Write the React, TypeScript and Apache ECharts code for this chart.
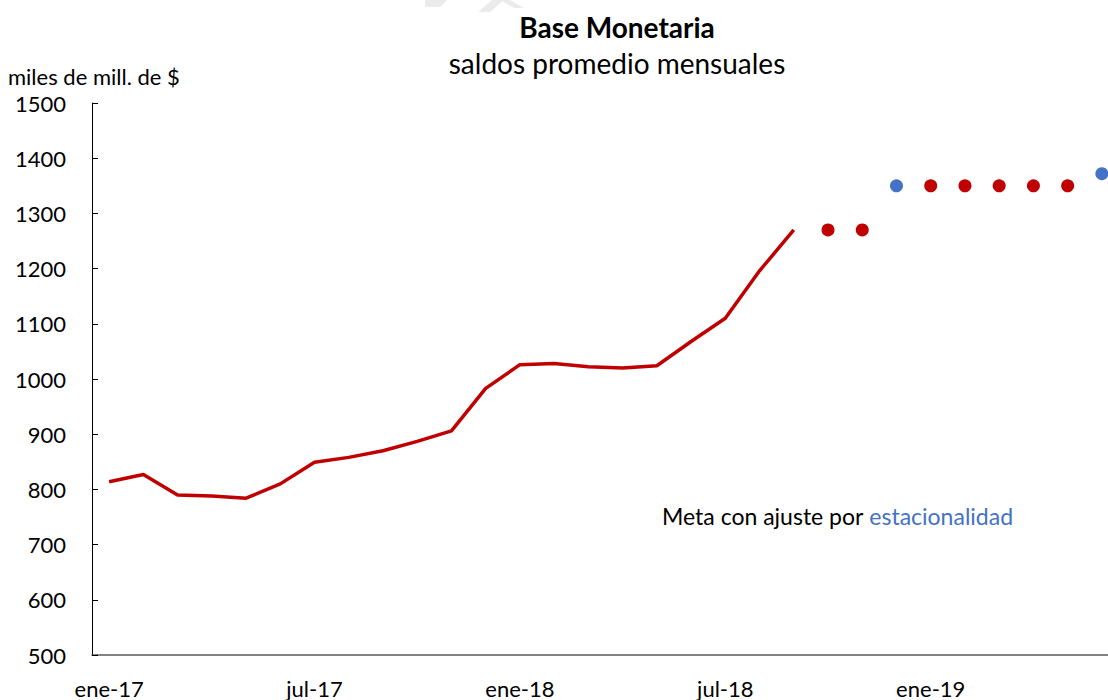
import React, { useEffect, useRef } from "react";
import * as echarts from "echarts";

const categories = [
  "ene-17", "feb-17", "mar-17", "abr-17", "may-17", "jun-17",
  "jul-17", "ago-17", "sep-17", "oct-17", "nov-17", "dic-17",
  "ene-18", "feb-18", "mar-18", "abr-18", "may-18", "jun-18",
  "jul-18", "ago-18", "sep-18", "oct-18", "nov-18", "dic-18",
  "ene-19", "feb-19", "mar-19", "abr-19", "may-19", "jun-19",
];

const baseMonetaria = [
  814, 827, 790, 788, 784, 810, 849, 858, 870, 887, 906,
  983, 1026, 1028, 1022, 1020, 1024, 1068, 1110, 1196, 1270,
];

const metaSinAjuste: [number, number][] = [
  [21, 1270], [22, 1270], [24, 1350], [25, 1350], [26, 1350], [27, 1350], [28, 1350],
];

const metaEstacional: [number, number][] = [
  [23, 1350], [29, 1372],
];

const FONT = "Lato, 'Open Sans', sans-serif";

export default function App() {
  const ref = useRef<HTMLDivElement>(null);
  useEffect(() => {
    if (!ref.current) return;
    const chart = echarts.init(ref.current, undefined, { renderer: "svg" });
    chart.setOption({
      animation: false,
      backgroundColor: "#ffffff",
      textStyle: { fontFamily: FONT },
      title: {
        text: "Base Monetaria",
        subtext: "saldos promedio mensuales",
        left: 612,
        textAlign: "center",
        top: 8,
        itemGap: 8,
        textStyle: { fontFamily: FONT, fontSize: 28, fontWeight: "bold", color: "#000" },
        subtextStyle: { fontFamily: FONT, fontSize: 28, color: "#000" },
      },
      grid: { left: 92, right: 0, top: 103, bottom: 45, containLabel: false },
      xAxis: {
        type: "category",
        data: categories,
        boundaryGap: true,
        axisLine: { lineStyle: { color: "#595959", width: 1.5 } },
        axisTick: { inside: true, length: 6, interval: 5, lineStyle: { color: "#595959" } },
        axisLabel: { interval: 5, margin: 22, fontSize: 22, color: "#000", fontFamily: FONT },
        splitLine: { show: false },
      },
      yAxis: {
        type: "value",
        min: 500,
        max: 1500,
        interval: 100,
        name: "miles de mill. de $",
        nameLocation: "end",
        nameGap: 16,
        nameTextStyle: { fontSize: 22, color: "#000", fontFamily: FONT, align: "left", padding: [0, 0, 0, -84] },
        axisLine: { show: true, lineStyle: { color: "#000", width: 1 } },
        axisTick: { show: true, inside: true, length: 6, lineStyle: { color: "#000" } },
        axisLabel: {
          margin: 26,
          fontSize: 22,
          color: "#000",
          fontFamily: FONT,
          formatter: (v: number) => String(v),
        },
        splitLine: { show: false },
      },
      series: [
        {
          type: "line",
          data: baseMonetaria,
          symbol: "none",
          lineStyle: { color: "#C00000", width: 3.5 },
          z: 3,
        },
        {
          type: "scatter",
          data: metaSinAjuste,
          symbol: "circle",
          symbolSize: 13,
          itemStyle: { color: "#C00000", opacity: 1 },
        },
        {
          type: "scatter",
          data: metaEstacional,
          symbol: "circle",
          symbolSize: 13,
          itemStyle: { color: "#4472C4", opacity: 1 },
        },
      ],
      graphic: [
        {
          type: "polygon",
          silent: true,
          shape: { points: [[425, 0], [447, 0], [440, 7], [425, 7]] },
          style: { fill: "#ebebeb" },
        },
        {
          type: "polygon",
          silent: true,
          shape: { points: [[478, 12], [490, 12], [504, 0], [492, 0]] },
          style: { fill: "#ebebeb" },
        },
        {
          type: "polygon",
          silent: true,
          shape: { points: [[500, 0], [510, 0], [524, 8], [514, 8]] },
          style: { fill: "#ebebeb" },
        },
        {
          type: "text",
          left: 662,
          top: 504,
          style: {
            text: "Meta con ajuste por {b|estacionalidad}",
            fontFamily: FONT,
            fontSize: 23,
            fill: "#000",
            rich: { b: { fontFamily: FONT, fontSize: 23, fill: "#4472C4", color: "#4472C4" } },
          },
        },
      ],
    });
    return () => chart.dispose();
  }, []);
  return (
    <div style={{ width: 1108, height: 700, position: "absolute", left: 0, top: 0, overflow: "hidden" }}>
      <div ref={ref} style={{ width: 1119, height: 700 }} />
    </div>
  );
}
